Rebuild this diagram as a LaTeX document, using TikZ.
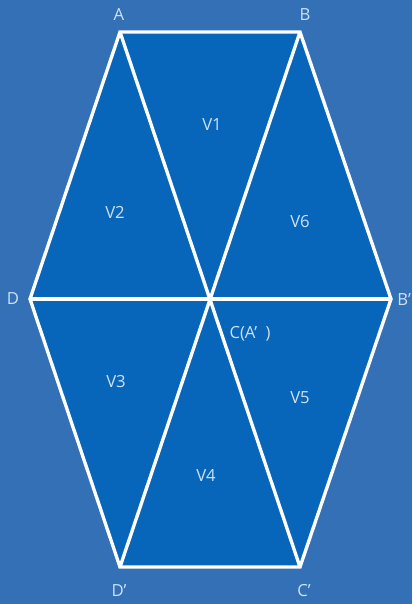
\documentclass[tikz,border=0pt]{standalone}
\usepackage{fontspec}
\setmainfont{Open Sans}
\usepackage{tikz}
\usepackage{xcolor}
\definecolor{bgblue}{RGB}{52,112,181}
\definecolor{hexblue}{RGB}{8,102,186}
\definecolor{lbltext}{RGB}{205,225,245}

\begin{document}
\begin{tikzpicture}[
  x=0.02cm, y=-0.02cm,
  font=\fontsize{9.5}{10}\selectfont,
  edge/.style={draw=white, line width=1.9pt, line join=miter},
  lbl/.style={text=lbltext, inner sep=0},
]
% --- tlo ---
\fill[bgblue] (0,0) rectangle (412,604);
\useasboundingbox (0,0) rectangle (412,604);
% --- wierzcholki ---
\coordinate (A) at (120,32);
\coordinate (B) at (300,32);
\coordinate (Bp) at (391,299);
\coordinate (Cp) at (300,567);
\coordinate (Dp) at (120,567);
\coordinate (D) at (30,299);
\coordinate (C) at (210,299);
% ===================== szesciokat =====================
\fill[hexblue] (A) -- (B) -- (Bp) -- (Cp) -- (Dp) -- (D) -- cycle;
\draw[edge] (A) -- (B) -- (Bp) -- (Cp) -- (Dp) -- (D) -- cycle;
\draw[edge] (D) -- (Bp);
\draw[edge] (A) -- (Cp);
\draw[edge] (B) -- (Dp);
% --- etykiety wierzcholkow ---
\node[lbl] (lA) at (119,15) {A};
\node[lbl] (lB) at (305,15) {B};
\node[lbl] (lD) at (13,299) {D};
\node[lbl, anchor=west] (lBp) at (397,300) {B’};
\node[lbl] (lC) at (250,334) {C(A’\enspace)};
\node[lbl] (lDp) at (119,591) {D’};
\node[lbl] (lCp) at (304,591) {C’};
% --- etykiety obszarow ---
\node[lbl] (v1) at (212,125) {V1};
\node[lbl] (v2) at (115,212) {V2};
\node[lbl] (v6) at (300,222) {V6};
\node[lbl] (v3) at (116,382) {V3};
\node[lbl] (v5) at (300,398) {V5};
\node[lbl] (v4) at (206,476) {V4};
\end{tikzpicture}
\end{document}
